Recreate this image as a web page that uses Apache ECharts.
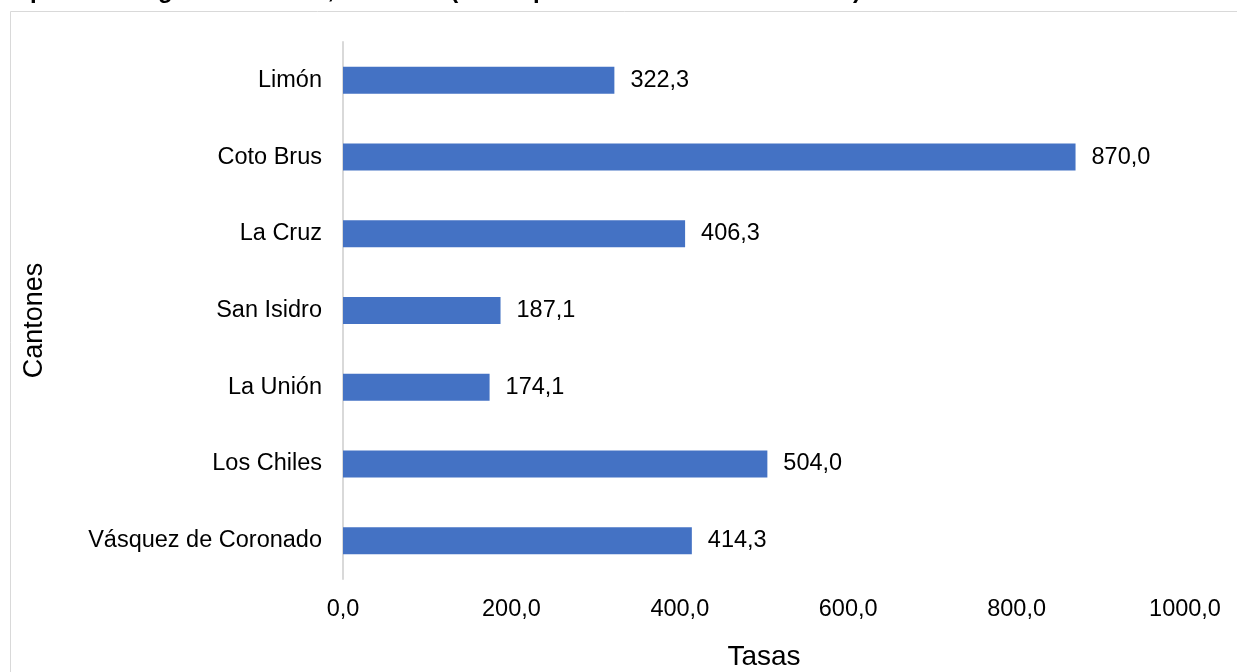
<!DOCTYPE html>
<html><head><meta charset="utf-8">
<script src="https://cdn.jsdelivr.net/npm/echarts@6/dist/echarts.min.js"></script>
<style>html,body{margin:0;padding:0;background:#fff;}#c{width:1237px;height:672px;}</style>
</head><body><div id="c"></div>
<script>
const categories = ['Limón', 'Coto Brus', 'La Cruz', 'San Isidro', 'La Unión', 'Los Chiles', 'Vásquez de Coronado'];
const values = [322.3, 870.0, 406.3, 187.1, 174.1, 504.0, 414.3];
const xTicks = [0, 200, 400, 600, 800, 1000];
const titleStart = 'Tasa de incidencia de malaria ';
const titleEnd = 'por área según residencia, año 2023 (casos por cada 100 000 habitantes)';

const FONT = '"Liberation Sans", Arial, sans-serif';
const fmt = v => Number(v).toFixed(1).replace('.', ',');
const titleFont = 'bold 24px ' + FONT;

const chart = echarts.init(document.getElementById('c'), null, {renderer: 'canvas'});
chart.setOption({
  animation: false,
  backgroundColor: '#fff',
  graphic: [
    {type: 'rect', shape: {x: 10.5, y: 11.5, width: 1300, height: 700},
     style: {fill: 'none', stroke: '#d9d9d9', lineWidth: 1}, silent: true},
    {type: 'text', x: 30, y: 3,
     style: {text: titleStart, font: titleFont, fill: '#000', verticalAlign: 'bottom', align: 'right'}},
    {type: 'text', x: 30, y: 3,
     style: {text: titleEnd, font: titleFont, fill: '#000', verticalAlign: 'bottom', align: 'left'}}
  ],
  grid: {left: 343, right: 52, top: 42, bottom: 93, containLabel: false, outerBoundsMode: 'none'},
  xAxis: {
    type: 'value', min: xTicks[0], max: xTicks[xTicks.length - 1], interval: 200,
    axisLine: {show: false}, axisTick: {show: false}, splitLine: {show: false},
    axisLabel: {formatter: fmt, fontFamily: FONT, fontSize: 23.5, color: '#000', margin: 19},
    name: 'Tasas', nameLocation: 'middle', nameGap: 64,
    nameTextStyle: {fontFamily: FONT, fontSize: 28, color: '#000'}
  },
  yAxis: {
    type: 'category', data: categories, inverse: true,
    axisLine: {show: true, lineStyle: {color: '#d9d9d9', width: 2}},
    axisTick: {show: false},
    axisLabel: {fontFamily: FONT, fontSize: 23.5, color: '#000', margin: 21},
    name: 'Cantones', nameLocation: 'middle', nameGap: 295, nameRotate: 90,
    nameTextStyle: {fontFamily: FONT, fontSize: 27, color: '#000', padding: [0, 20, 0, 0]}
  },
  series: [{
    type: 'bar', data: values, barWidth: 27,
    itemStyle: {color: '#4472C4'},
    label: {show: true, position: 'right', distance: 16, formatter: p => fmt(p.value),
            fontFamily: FONT, fontSize: 23.5, color: '#000'}
  }]
});
</script></body></html>
